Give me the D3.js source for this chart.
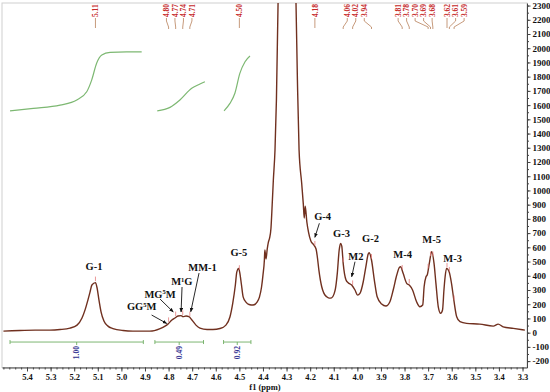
<!DOCTYPE html>
<html><head><meta charset="utf-8">
<script src="https://cdn.jsdelivr.net/npm/d3@7"></script>
<style>body{margin:0;background:#fff}svg{display:block}</style>
</head><body><svg id="c" width="550" height="392"></svg>
<script>
// ---- data ----
const spectrumPpm = [5.500,5.430,5.366,5.303,5.260,5.218,5.188,5.167,5.154,5.142,
5.133,5.125,5.110,5.103,5.095,5.086,5.074,5.057,5.036,4.993,
4.951,4.879,4.836,4.815,4.803,4.786,4.773,4.760,4.747,4.739,
4.726,4.714,4.701,4.684,4.667,4.637,4.612,4.582,4.557,4.540,
4.528,4.517,4.511,4.503,4.498,4.491,4.484,4.472,4.459,4.442,
4.425,4.415,4.406,4.400,4.394,4.392,4.387,4.382,4.377,4.372,
4.366,4.361,4.356,4.349,4.343,4.336,4.320,4.298,4.277,4.260,
4.254,4.247,4.236,4.229,4.225,4.221,4.214,4.207,4.197,4.186,
4.175,4.169,4.163,4.151,4.142,4.130,4.120,4.109,4.099,4.093,
4.085,4.077,4.071,4.066,4.060,4.048,4.039,4.024,4.010,3.999,
3.989,3.975,3.964,3.954,3.950,3.940,3.928,3.916,3.897,3.879,
3.862,3.848,3.833,3.822,3.817,3.806,3.791,3.780,3.766,3.749,
3.735,3.723,3.717,3.709,3.704,3.695,3.685,3.675,3.667,3.657,
3.647,3.639,3.633,3.628,3.622,3.611,3.601,3.591,3.579,3.565,
3.537,3.481,3.424,3.403,3.382,3.339,3.290];
const spectrumInt = [11,15,18,18,22,32,53,103,160,229,
285,335,352,314,229,145,82,46,29,15,
11,11,29,46,60,89,103,117,120,113,
117,113,89,53,32,22,22,29,53,110,
208,335,426,452,419,335,252,215,198,194,
215,250,321,405,511,581,518,588,637,665,
736,897,1073,1284,1635,2318,3000,3800,3000,2318,
1776,1284,1052,904,806,890,778,707,644,620,
588,525,440,323,278,252,243,245,271,307,
417,581,628,609,487,370,351,335,300,264,
276,358,463,553,562,511,370,252,201,187,
217,300,405,459,463,417,347,335,300,217,
182,194,323,393,405,487,569,487,347,182,
136,159,300,393,452,428,347,229,112,77,
65,60,46,60,41,30,18];

const integ1Ppm = [5.472,5.373,5.260,5.189,5.147,5.126,5.105,5.083,5.048,4.978,4.914];
const integ1Val = [1560,1577,1600,1636,1694,1776,1894,1952,1971,1975,1975];
const integ2Ppm = [4.848,4.794,4.752,4.702,4.667,4.646];
const integ2Val = [1560,1584,1636,1718,1748,1764];
const integ3Ppm = [4.565,4.540,4.519,4.498,4.476,4.455];
const integ3Val = [1560,1612,1683,1823,1905,1945];

const integFrom = [5.472, 4.858, 4.567];
const integTo = [4.907, 4.652, 4.451];
const integLabels = ["1.00", "0.49", "0.92"];
const integBarVal = -66;

const peakPicks = [5.11,4.80,4.77,4.74,4.71,4.50,4.18,4.06,4.02,3.94,3.81,3.78,3.70,3.69,3.68,3.62,3.61,3.59];
const pickGroup = [0,1,1,1,1,2,3,4,4,4,5,5,5,5,5,6,6,6];

const annText = ["G-1","G-5","MM-1","M^1G","MG^5M","GG^5M","G-4","G-3","M2","G-2","M-4","M-5","M-3"];
const annPpm = [5.116,4.502,4.656,4.744,4.836,4.914,4.147,4.067,4.006,3.944,3.808,3.685,3.596];
const annVal = [468,562,459,358,271,182,815,698,539,663,553,656,522];

const arrowFromPpm = [4.671,4.743,4.836,4.872,4.161,4.010];
const arrowFromVal = [419,321,236,124,769,499];
const arrowToPpm = [4.706,4.747,4.780,4.808,4.180,4.024];
const arrowToVal = [147,145,145,65,670,393];

const xTicks = [5.4,5.3,5.2,5.1,5.0,4.9,4.8,4.7,4.6,4.5,4.4,4.3,4.2,4.1,4.0,3.9,3.8,3.7,3.6,3.5,3.4,3.3];
const yTicks = [-200,-100,0,100,200,300,400,500,600,700,800,900,1000,1100,1200,1300,1400,1500,1600,1700,1800,1900,2000,2100,2200,2300];
const xTitle = "f1 (ppm)";

// ---- drawing ----
const svg = d3.select("#c");
const FONT = "'Liberation Serif','Times New Roman',serif";
const L = 2, R = 527, T = 3, B = 367.5;
const x = d3.scaleLinear().domain([5.506, 3.281]).range([L, R]);
const y = d3.scaleLinear().domain([-245, 2318]).range([B, T]);

const defs = svg.append("defs");
defs.append("clipPath").attr("id","clip")
  .append("rect").attr("x",L).attr("y",T).attr("width",R-L).attr("height",B-T);
defs.append("marker").attr("id","arr").attr("viewBox","0 0 10 10").attr("refX",9).attr("refY",5)
  .attr("markerWidth",5).attr("markerHeight",5).attr("orient","auto")
  .append("path").attr("d","M0,1 L10,5 L0,9 Z").attr("fill","#111");

svg.append("rect").attr("x",L).attr("y",T).attr("width",R-L).attr("height",B-T)
  .attr("fill","none").attr("stroke","#cfcfcf").attr("stroke-width",1);

// integration curves
const intLine = d3.line().x(d=>x(d[0])).y(d=>y(d[1])).curve(d3.curveMonotoneX);
[[integ1Ppm,integ1Val],[integ2Ppm,integ2Val],[integ3Ppm,integ3Val]].forEach(([p,v])=>{
  svg.append("path").attr("d", intLine(p.map((pp,i)=>[pp,v[i]])))
    .attr("fill","none").attr("stroke","#7db872").attr("stroke-width",1.2);
});

// integration bars
integFrom.forEach((f,i)=>{
  const t = integTo[i], yy = y(integBarVal);
  const g = svg.append("g").attr("stroke","#6fae62").attr("stroke-width",0.9);
  g.append("line").attr("x1",x(f)).attr("x2",x(t)).attr("y1",yy).attr("y2",yy);
  [f,t].forEach(e=>g.append("line").attr("x1",x(e)).attr("x2",x(e)).attr("y1",yy-2).attr("y2",yy+2));
  const mid = (f+t)/2;
  g.append("line").attr("x1",x(mid)).attr("x2",x(mid)).attr("y1",yy).attr("y2",yy+3);
  svg.append("text").attr("transform",`translate(${x(mid)},${yy+4}) rotate(-90)`)
    .attr("text-anchor","end").attr("dy","0.35em")
    .attr("font-family",FONT).attr("font-weight","bold").attr("font-size",7.5)
    .attr("fill","#2e2e90").text(integLabels[i]);
});

// spectrum
const specData = spectrumPpm.map((p,i)=>[p, spectrumInt[i]]);
const specLine = d3.line().x(d=>x(d[0])).y(d=>y(d[1])).curve(d3.curveMonotoneX);
svg.append("path").attr("clip-path","url(#clip)").attr("d", specLine(specData))
  .attr("fill","none").attr("stroke","#70301f").attr("stroke-width",1.4).attr("stroke-linejoin","round");

// peak pick markers on curve
function valAt(p){
  for (let i=0;i<specData.length-1;i++){
    const a=specData[i], b=specData[i+1];
    if (p<=a[0] && p>=b[0]) { const t=(a[0]-p)/(a[0]-b[0]); return a[1]+t*(b[1]-a[1]); }
  }
  return 0;
}
peakPicks.forEach(p=>{
  const v = Math.min(valAt(p), 2300);
  svg.append("line").attr("x1",x(p)).attr("x2",x(p)).attr("y1",y(v)-6).attr("y2",y(v)-1.5)
    .attr("stroke","#e57c7c").attr("stroke-width",0.8);
});

// peak labels at top: groups laid out as blocks, blocks pushed apart
const GAP = 8.5, BLOCKGAP = 15;
const blocks = d3.groups(peakPicks.map((p,i)=>({p,i,g:pickGroup[i]})), d=>d.g).map(([g,items])=>({
  items, c: d3.mean(items, d=>x(d.p)), w: (items.length-1)*GAP }));
for (let it=0; it<60; it++){
  for (let b=0;b<blocks.length-1;b++){
    const A=blocks[b], Bk=blocks[b+1];
    const space = (Bk.c - Bk.w/2) - (A.c + A.w/2);
    if (space < BLOCKGAP){ const s=(BLOCKGAP-space)/2; A.c-=s; Bk.c+=s; }
  }
}
const labelX = [];
blocks.forEach(b=>{ const n=b.items.length; b.items.forEach((d,k)=> labelX[d.i] = b.c + (k-(n-1)/2)*GAP); });
peakPicks.forEach((p,i)=>{
  const lx = labelX[i], px = x(p);
  const single = Math.abs(lx-px) < 0.5;
  svg.append("path").attr("d", single ? `M${px},18L${px},28` : `M${lx},18L${lx},21L${px},27L${px},29`)
    .attr("fill","none").attr("stroke","#b8805a").attr("stroke-width",0.8);
  svg.append("text").attr("transform",`translate(${lx},17) rotate(-90)`)
    .attr("dy","0.35em").attr("font-family",FONT).attr("font-weight","bold").attr("font-size",7.5)
    .attr("fill","#c62a2a").text(p.toFixed(2));
});

// annotations
function richText(sel, s){
  const parts = s.split("^");
  sel.append("tspan").text(parts[0]);
  for (let k=1;k<parts.length;k++){
    sel.append("tspan").attr("font-size",6.5).attr("dy",-3.5).text(parts[k][0]);
    sel.append("tspan").attr("dy",3.5).text(parts[k].slice(1));
  }
}
annText.forEach((s,i)=>{
  const t = svg.append("text").attr("x",x(annPpm[i])).attr("y",y(annVal[i])).attr("dy","0.35em")
    .attr("text-anchor","middle").attr("font-family",FONT).attr("font-weight","bold")
    .attr("font-size",10.5).attr("fill","#111");
  richText(t, s);
});
arrowFromPpm.forEach((p,i)=>{
  svg.append("line").attr("x1",x(p)).attr("y1",y(arrowFromVal[i]))
    .attr("x2",x(arrowToPpm[i])).attr("y2",y(arrowToVal[i]))
    .attr("stroke","#111").attr("stroke-width",0.9).attr("marker-end","url(#arr)");
});

// x axis
const minorX = d3.range(3.3, 5.5001, 0.025).filter(v=>v>=x.domain()[1] && v<=x.domain()[0]);
const gxm = svg.append("g").attr("transform",`translate(0,${B})`)
  .call(d3.axisBottom(x).tickValues(minorX).tickSize(2).tickFormat("").tickSizeOuter(0));
gxm.select(".domain").remove();
gxm.selectAll("line").attr("stroke","#444");
const gx = svg.append("g").attr("transform",`translate(0,${B})`)
  .call(d3.axisBottom(x).tickValues(xTicks).tickSize(4).tickPadding(2).tickSizeOuter(0).tickFormat(d=>d.toFixed(1)));
gx.select(".domain").attr("stroke","#444");
gx.selectAll("line").attr("stroke","#444");
gx.selectAll("text").attr("font-family",FONT).attr("font-weight","bold").attr("font-size",8.5).attr("fill","#111");
svg.append("text").attr("x",265).attr("y",390).attr("text-anchor","middle")
  .attr("font-family",FONT).attr("font-weight","bold").attr("font-size",8.5).attr("fill","#111").text(xTitle);

// y axis
const minorY = d3.range(-200, 2301, 50);
const gym = svg.append("g").attr("transform",`translate(${R},0)`)
  .call(d3.axisRight(y).tickValues(minorY).tickSize(2).tickFormat("").tickSizeOuter(0));
gym.select(".domain").remove();
gym.selectAll("line").attr("stroke","#444");
const gy = svg.append("g").attr("transform",`translate(${R},0)`)
  .call(d3.axisRight(y).tickValues(yTicks).tickSize(3.5).tickPadding(2).tickSizeOuter(0).tickFormat(d=>String(d)));
gy.select(".domain").attr("stroke","#444");
gy.selectAll("line").attr("stroke","#444");
gy.selectAll("text").attr("font-family",FONT).attr("font-weight","bold").attr("font-size",9).attr("fill","#111");
</script>
</body></html>
